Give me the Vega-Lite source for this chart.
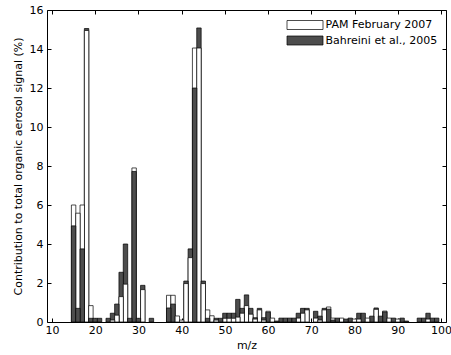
{
  "$schema": "https://vega.github.io/schema/vega-lite/v6.json",
  "width": 399,
  "height": 312,
  "autosize": "none",
  "padding": {"left": 47, "top": 10, "right": 5, "bottom": 33},
  "background": "white",
  "config": {
    "font": "DejaVu Sans",
    "view": {"stroke": "black", "strokeWidth": 1},
    "axis": {
      "domain": false, "grid": false, "tickColor": "black", "tickSize": -4, "tickWidth": 1,
      "labelColor": "black", "labelFontSize": 11, "labelFont": "DejaVu Sans",
      "titleColor": "black", "titleFontSize": 11, "titleFont": "DejaVu Sans", "titleFontWeight": "normal"
    }
  },
  "data": {"values": [
    {"mz": 15, "series": "PAM February 2007", "value": 6.0},
    {"mz": 16, "series": "PAM February 2007", "value": 5.58},
    {"mz": 17, "series": "PAM February 2007", "value": 6.0},
    {"mz": 18, "series": "PAM February 2007", "value": 14.95},
    {"mz": 19, "series": "PAM February 2007", "value": 0.84},
    {"mz": 24, "series": "PAM February 2007", "value": 0.1},
    {"mz": 25, "series": "PAM February 2007", "value": 0.35},
    {"mz": 26, "series": "PAM February 2007", "value": 1.3},
    {"mz": 27, "series": "PAM February 2007", "value": 1.94},
    {"mz": 29, "series": "PAM February 2007", "value": 7.9},
    {"mz": 31, "series": "PAM February 2007", "value": 1.66},
    {"mz": 37, "series": "PAM February 2007", "value": 1.37},
    {"mz": 38, "series": "PAM February 2007", "value": 1.37},
    {"mz": 39, "series": "PAM February 2007", "value": 0.31},
    {"mz": 40, "series": "PAM February 2007", "value": 0.1},
    {"mz": 41, "series": "PAM February 2007", "value": 1.97},
    {"mz": 42, "series": "PAM February 2007", "value": 3.3},
    {"mz": 43, "series": "PAM February 2007", "value": 14.05},
    {"mz": 44, "series": "PAM February 2007", "value": 14.05},
    {"mz": 45, "series": "PAM February 2007", "value": 1.97},
    {"mz": 46, "series": "PAM February 2007", "value": 0.62},
    {"mz": 47, "series": "PAM February 2007", "value": 0.32},
    {"mz": 48, "series": "PAM February 2007", "value": 0.1},
    {"mz": 50, "series": "PAM February 2007", "value": 0.19},
    {"mz": 51, "series": "PAM February 2007", "value": 0.19},
    {"mz": 52, "series": "PAM February 2007", "value": 0.19},
    {"mz": 53, "series": "PAM February 2007", "value": 0.25},
    {"mz": 54, "series": "PAM February 2007", "value": 0.45},
    {"mz": 55, "series": "PAM February 2007", "value": 0.84},
    {"mz": 56, "series": "PAM February 2007", "value": 0.4},
    {"mz": 57, "series": "PAM February 2007", "value": 0.15},
    {"mz": 58, "series": "PAM February 2007", "value": 0.62},
    {"mz": 59, "series": "PAM February 2007", "value": 0.1},
    {"mz": 60, "series": "PAM February 2007", "value": 0.55},
    {"mz": 61, "series": "PAM February 2007", "value": 0.2},
    {"mz": 67, "series": "PAM February 2007", "value": 0.2},
    {"mz": 68, "series": "PAM February 2007", "value": 0.45},
    {"mz": 69, "series": "PAM February 2007", "value": 0.62},
    {"mz": 71, "series": "PAM February 2007", "value": 0.2},
    {"mz": 72, "series": "PAM February 2007", "value": 0.1},
    {"mz": 73, "series": "PAM February 2007", "value": 0.62},
    {"mz": 74, "series": "PAM February 2007", "value": 0.77},
    {"mz": 75, "series": "PAM February 2007", "value": 0.2},
    {"mz": 77, "series": "PAM February 2007", "value": 0.2},
    {"mz": 80, "series": "PAM February 2007", "value": 0.15},
    {"mz": 81, "series": "PAM February 2007", "value": 0.15},
    {"mz": 83, "series": "PAM February 2007", "value": 0.2},
    {"mz": 85, "series": "PAM February 2007", "value": 0.65},
    {"mz": 87, "series": "PAM February 2007", "value": 0.56},
    {"mz": 88, "series": "PAM February 2007", "value": 0.2},
    {"mz": 90, "series": "PAM February 2007", "value": 0.15},
    {"mz": 97, "series": "PAM February 2007", "value": 0.15},
    {"mz": 15, "series": "Bahreini et al., 2005", "value": 4.93},
    {"mz": 16, "series": "Bahreini et al., 2005", "value": 0.7},
    {"mz": 17, "series": "Bahreini et al., 2005", "value": 3.75},
    {"mz": 18, "series": "Bahreini et al., 2005", "value": 15.05},
    {"mz": 19, "series": "Bahreini et al., 2005", "value": 0.19},
    {"mz": 20, "series": "Bahreini et al., 2005", "value": 0.19},
    {"mz": 21, "series": "Bahreini et al., 2005", "value": 0.19},
    {"mz": 23, "series": "Bahreini et al., 2005", "value": 0.19},
    {"mz": 24, "series": "Bahreini et al., 2005", "value": 0.45},
    {"mz": 25, "series": "Bahreini et al., 2005", "value": 0.92},
    {"mz": 26, "series": "Bahreini et al., 2005", "value": 2.55},
    {"mz": 27, "series": "Bahreini et al., 2005", "value": 4.0},
    {"mz": 28, "series": "Bahreini et al., 2005", "value": 0.19},
    {"mz": 29, "series": "Bahreini et al., 2005", "value": 7.72},
    {"mz": 30, "series": "Bahreini et al., 2005", "value": 0.19},
    {"mz": 31, "series": "Bahreini et al., 2005", "value": 1.88},
    {"mz": 33, "series": "Bahreini et al., 2005", "value": 0.19},
    {"mz": 37, "series": "Bahreini et al., 2005", "value": 0.72},
    {"mz": 38, "series": "Bahreini et al., 2005", "value": 0.92},
    {"mz": 41, "series": "Bahreini et al., 2005", "value": 2.1},
    {"mz": 42, "series": "Bahreini et al., 2005", "value": 3.75},
    {"mz": 43, "series": "Bahreini et al., 2005", "value": 12.0},
    {"mz": 44, "series": "Bahreini et al., 2005", "value": 15.08},
    {"mz": 45, "series": "Bahreini et al., 2005", "value": 2.1},
    {"mz": 46, "series": "Bahreini et al., 2005", "value": 0.19},
    {"mz": 48, "series": "Bahreini et al., 2005", "value": 0.19},
    {"mz": 49, "series": "Bahreini et al., 2005", "value": 0.19},
    {"mz": 50, "series": "Bahreini et al., 2005", "value": 0.45},
    {"mz": 51, "series": "Bahreini et al., 2005", "value": 0.45},
    {"mz": 52, "series": "Bahreini et al., 2005", "value": 0.45},
    {"mz": 53, "series": "Bahreini et al., 2005", "value": 1.16},
    {"mz": 54, "series": "Bahreini et al., 2005", "value": 0.7},
    {"mz": 55, "series": "Bahreini et al., 2005", "value": 1.39},
    {"mz": 56, "series": "Bahreini et al., 2005", "value": 0.7},
    {"mz": 57, "series": "Bahreini et al., 2005", "value": 0.22},
    {"mz": 58, "series": "Bahreini et al., 2005", "value": 0.7},
    {"mz": 59, "series": "Bahreini et al., 2005", "value": 0.22},
    {"mz": 60, "series": "Bahreini et al., 2005", "value": 0.5},
    {"mz": 62, "series": "Bahreini et al., 2005", "value": 0.05},
    {"mz": 63, "series": "Bahreini et al., 2005", "value": 0.2},
    {"mz": 64, "series": "Bahreini et al., 2005", "value": 0.2},
    {"mz": 65, "series": "Bahreini et al., 2005", "value": 0.2},
    {"mz": 66, "series": "Bahreini et al., 2005", "value": 0.2},
    {"mz": 67, "series": "Bahreini et al., 2005", "value": 0.45},
    {"mz": 68, "series": "Bahreini et al., 2005", "value": 0.7},
    {"mz": 69, "series": "Bahreini et al., 2005", "value": 0.7},
    {"mz": 71, "series": "Bahreini et al., 2005", "value": 0.55},
    {"mz": 72, "series": "Bahreini et al., 2005", "value": 0.3},
    {"mz": 73, "series": "Bahreini et al., 2005", "value": 0.7},
    {"mz": 74, "series": "Bahreini et al., 2005", "value": 0.66},
    {"mz": 75, "series": "Bahreini et al., 2005", "value": 0.1},
    {"mz": 76, "series": "Bahreini et al., 2005", "value": 0.2},
    {"mz": 78, "series": "Bahreini et al., 2005", "value": 0.15},
    {"mz": 79, "series": "Bahreini et al., 2005", "value": 0.2},
    {"mz": 81, "series": "Bahreini et al., 2005", "value": 0.45},
    {"mz": 82, "series": "Bahreini et al., 2005", "value": 0.45},
    {"mz": 84, "series": "Bahreini et al., 2005", "value": 0.3},
    {"mz": 85, "series": "Bahreini et al., 2005", "value": 0.72},
    {"mz": 86, "series": "Bahreini et al., 2005", "value": 0.3},
    {"mz": 87, "series": "Bahreini et al., 2005", "value": 0.52},
    {"mz": 89, "series": "Bahreini et al., 2005", "value": 0.2},
    {"mz": 91, "series": "Bahreini et al., 2005", "value": 0.2},
    {"mz": 92, "series": "Bahreini et al., 2005", "value": 0.05},
    {"mz": 95, "series": "Bahreini et al., 2005", "value": 0.2},
    {"mz": 96, "series": "Bahreini et al., 2005", "value": 0.2},
    {"mz": 97, "series": "Bahreini et al., 2005", "value": 0.45},
    {"mz": 98, "series": "Bahreini et al., 2005", "value": 0.2},
    {"mz": 99, "series": "Bahreini et al., 2005", "value": 0.2}
  ]},
  "layer": [
    {
      "mark": {"type": "bar", "size": 4.43, "stroke": "black", "strokeWidth": 0.7, "opacity": 1},
      "encoding": {
        "x": {"field": "mz", "type": "quantitative", "scale": {"domain": [10, 100], "nice": false, "zero": false},
              "axis": {"title": "m/z", "values": [10,20,30,40,50,60,70,80,90,100], "labelPadding": 6, "titlePadding": 4}},
        "y": {"field": "value", "type": "quantitative", "stack": null, "scale": {"domain": [0, 16], "nice": false},
              "axis": {"title": "Contribution to total organic aerosol signal (%)", "values": [0,2,4,6,8,10,12,14,16], "labelPadding": 8, "titlePadding": 6}},
        "color": {"field": "series", "type": "nominal",
                  "scale": {"domain": ["PAM February 2007", "Bahreini et al., 2005"], "range": ["white", "#4d4d4d"]},
                  "legend": {"title": null, "orient": "none", "legendX": 252.5, "legendY": 9.5,
                             "symbolType": "M-4,-1H4V1H-4Z", "symbolSize": 81, "symbolStrokeColor": "black", "symbolStrokeWidth": 0.7,
                             "symbolOpacity": 1, "labelOffset": 15, "labelFontSize": 11, "labelFont": "DejaVu Sans", "labelColor": "black", "rowPadding": 2.5, "padding": 0}},
        "order": {"field": "value", "type": "quantitative", "sort": "descending"}
      }
    },
    {
      "mark": {"type": "point", "opacity": 0},
      "encoding": {
        "x": {"field": "mz", "type": "quantitative", "axis": {"orient": "top", "labels": false, "title": null, "values": [10,20,30,40,50,60,70,80,90,100]}},
        "y": {"field": "value", "type": "quantitative", "axis": {"orient": "right", "labels": false, "title": null, "values": [0,2,4,6,8,10,12,14,16]}}
      }
    }
  ],
  "resolve": {"axis": {"x": "independent", "y": "independent"}}
}
